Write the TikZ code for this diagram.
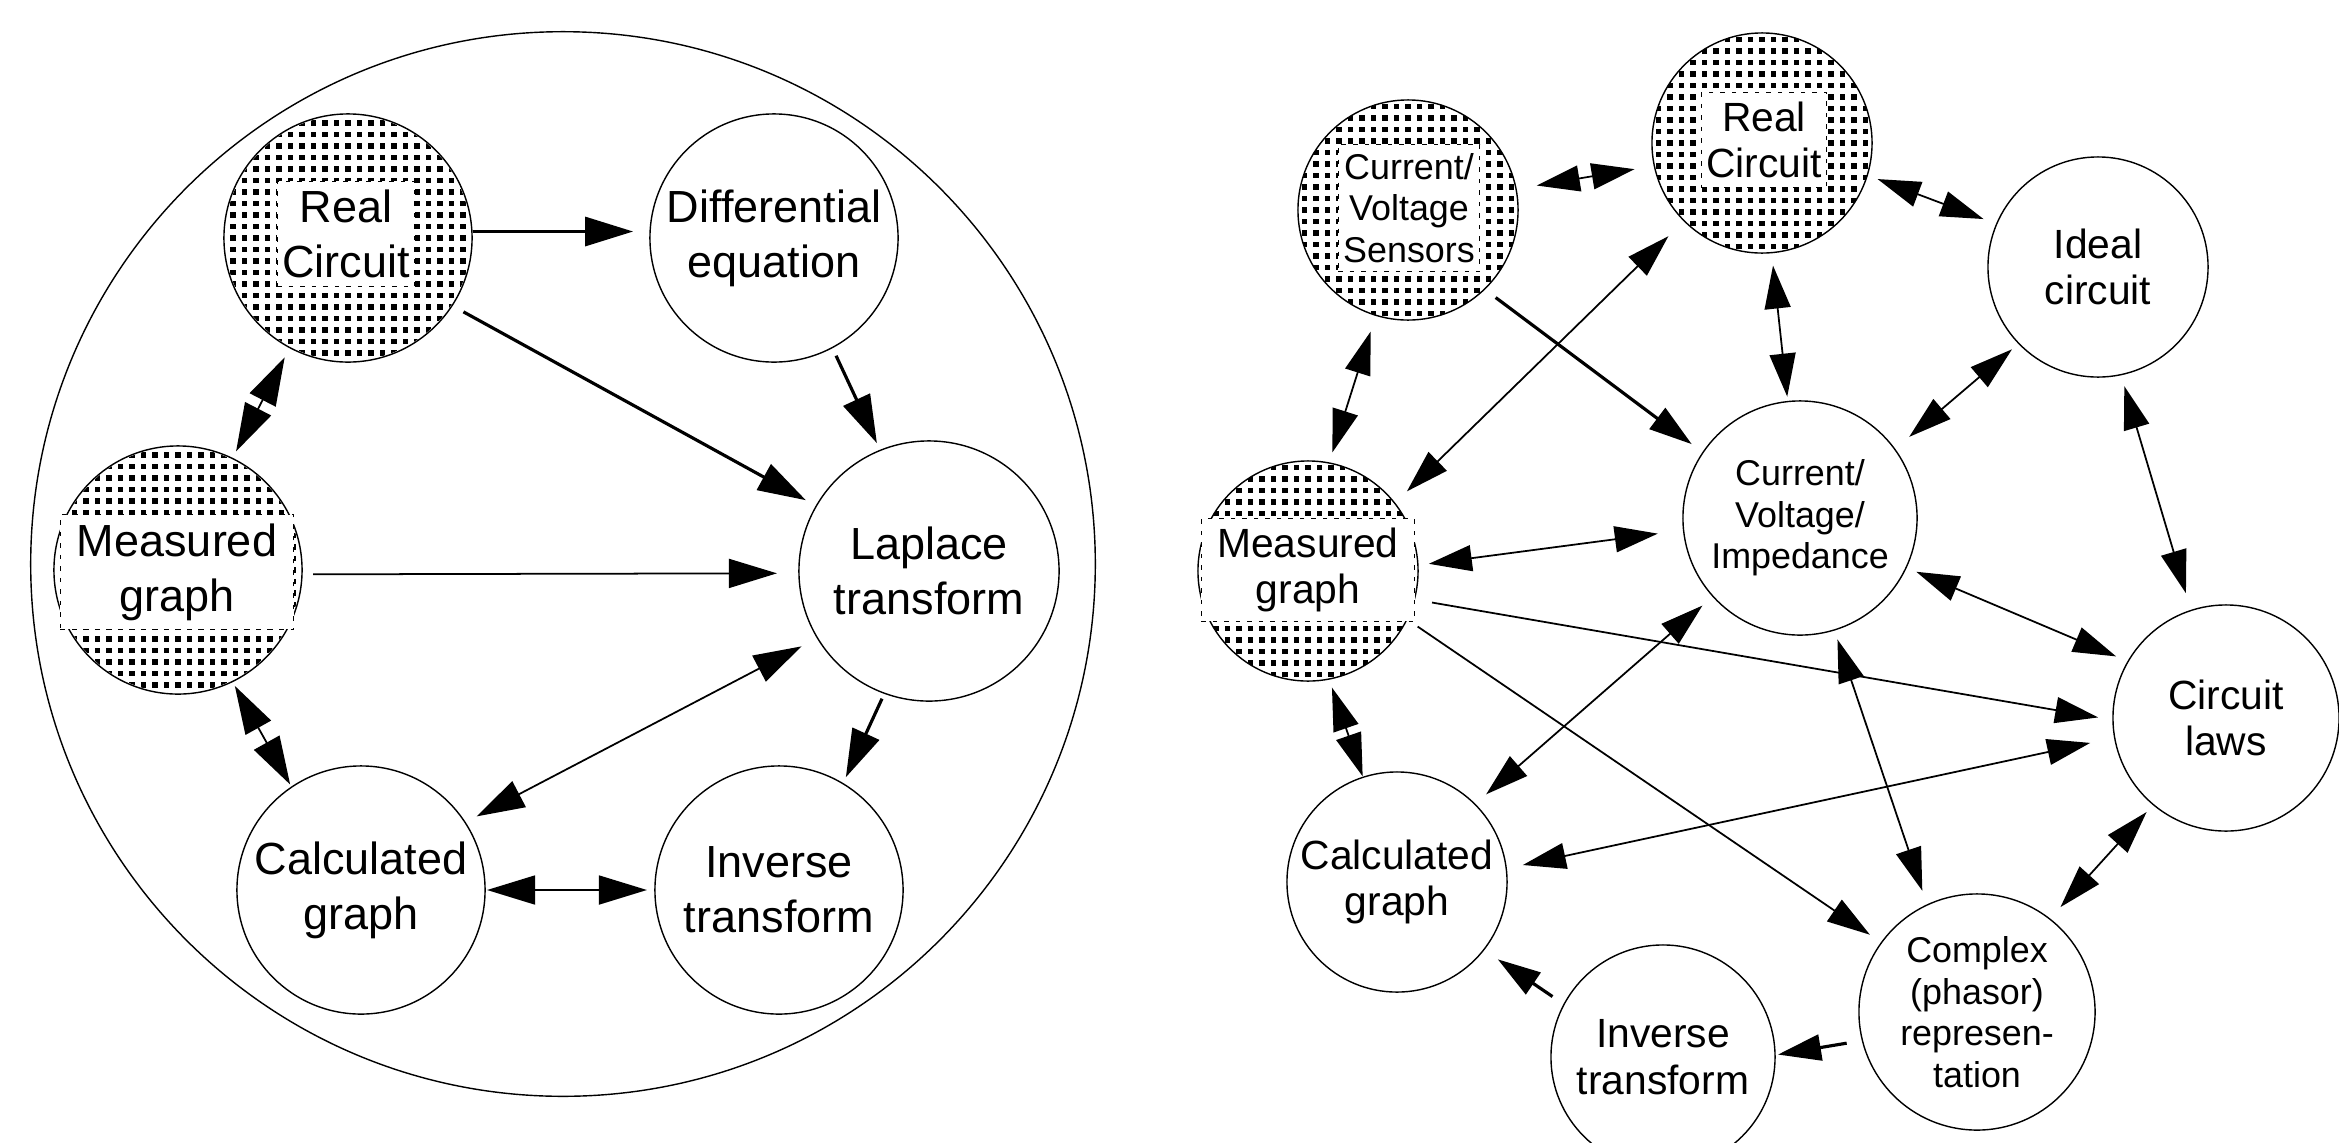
\documentclass[tikz,border=0pt]{standalone}
\usepackage{fontspec}
\setmainfont{Liberation Sans}
\usetikzlibrary{arrows.meta}
\newcommand\fontL{\fontsize{12.8pt}{15.6pt}\selectfont}
\newcommand\fontR{\fontsize{11.6pt}{13.2pt}\selectfont}
\newcommand\fontS{\fontsize{10.2pt}{11.8pt}\selectfont}
\newcommand\dotgrid[2]{%
  \begin{scope}
    \clip (#1.center) circle (#2);
    \begin{scope}[shift={(#1.center)}]
      \foreach \i in {-11,...,11}{\foreach \j in {-11,...,11}{%
        \fill (\i*11.5-2.8,\j*11.5-2.8) rectangle ++(5.6,5.6);}}
    \end{scope}
  \end{scope}}
\tikzset{
  TL/.tip={Triangle[length=0.48cm,width=0.29cm]},
  TR/.tip={Triangle[length=0.43cm,width=0.26cm]},
}
\begin{document}
\begin{tikzpicture}[x=0.01cm,y=0.01cm,
  circ/.style={draw, circle, line width=0.4pt, inner sep=0pt, outer sep=0pt, align=center},
  Lc/.style={circ, minimum size=2.48cm, font=\fontL},
  Rc/.style={circ, minimum size=2.2cm, font=\fontR},
  tbox/.style={fill=white, draw, line width=0.3pt, dash pattern=on 0.045cm off 0.07cm,
               inner xsep=0.05cm, inner ysep=0.09cm, align=center},
  la/.style={-TL, line width=0.5pt},
  lda/.style={TL-TL, line width=0.5pt},
  ra/.style={-TR, line width=0.5pt},
  rda/.style={TR-TR, line width=0.5pt},
  heavy/.style={line width=0.9pt}]
\useasboundingbox (0,0) rectangle (2339,-1142);
\clip (0,0) rectangle (2339,-1142);

% ---------------- left diagram ----------------
\node[circ, minimum size=10.64cm] (frame) at (563,-564) {};
\node[Lc] (lrc) at (348,-238) {};
\dotgrid{lrc}{123}
\node[tbox, font=\fontL] (lrct) at (346,-234) {Real\\Circuit};
\node[Lc] (lde) at (774,-238) {Differential\\equation};
\node[Lc] (lmg) at (178,-570) {};
\dotgrid{lmg}{123}
\node[tbox, font=\fontL, minimum width=2.33cm] (lmgt) at (177,-572) {Measured\\graph};
\node[Lc, minimum size=2.6cm] (llt) at (929,-571) {Laplace\\transform};
\node[Lc] (lcg) at (361,-890) {Calculated\\graph};
\node[Lc] (lit) at (779,-890) {Inverse\\transform};

\draw[la, heavy, shorten <=0.01cm, shorten >=0.17cm] (lrc.3) -- (lde.177);
\draw[la, heavy, shorten <=0.13cm, shorten >=0.12cm] (lrc.327) -- (llt.150);
\draw[la, heavy, shorten <=0.09cm, shorten >=0.08cm] (lde.298) -- (llt.112);
\draw[la, shorten <=0.11cm, shorten >=0.22cm] (lmg.358) -- (llt.181);
\draw[lda, shorten <=0.18cm, shorten >=0.13cm] (llt.211) -- (lcg.33);
\draw[la, heavy, shorten <=0.06cm, shorten >=0.07cm] (llt.250) -- (lit.59);
\draw[lda, shorten <=0.02cm, shorten >=0.08cm] (lcg.0) -- (lit.180);
\draw[lda, shorten <=0.11cm, shorten >=0.08cm] (lrc.242) -- (lmg.64);
\draw[lda, shorten <=0.05cm, shorten >=0.03cm] (lmg.296) -- (lcg.124);

% ---------------- right diagram ----------------
\node[Rc] (sen) at (1408,-210) {};
\dotgrid{sen}{110}
\node[tbox, font=\fontS] (sent) at (1409,-208) {Current/\\Voltage\\Sensors};
\node[Rc] (rrc) at (1762,-143) {};
\dotgrid{rrc}{110}
\node[tbox, font=\fontR] (rrct) at (1764,-140) {Real\\Circuit};
\node[Rc] (ide) at (2098,-267) {Ideal\\circuit};
\node[Rc, minimum size=2.34cm, font=\fontS] (cvi) at (1800,-518) {Current/\\Voltage/\\Impedance};
\node[Rc] (rmg) at (1308,-571) {};
\dotgrid{rmg}{110}
\node[tbox, font=\fontR, minimum width=2.13cm] (rmgt) at (1308,-570) {Measured\\graph};
\node[Rc, minimum size=2.26cm] (cl) at (2226,-718) {Circuit\\laws};
\node[Rc] (rcg) at (1397,-882) {Calculated\\graph};
\node[Rc, minimum size=2.36cm, font=\fontS] (cpx) at (1977,-1012) {Complex\\(phasor)\\represen-\\tation};
\node[Rc, minimum size=2.24cm] (rit) at (1663,-1057) {Inverse\\transform};

\draw[rda, shorten <=0.21cm, shorten >=0.20cm] (sen.11) -- (rrc.192);
\draw[rda, shorten <=0.11cm, shorten >=0.14cm] (rrc.343) -- (ide.157);
\draw[rda, shorten <=0.13cm, shorten >=0.05cm] (rrc.275) -- (cvi.96);
\draw[rda, shorten <=0.17cm, shorten >=0.11cm] (sen.253) -- (rmg.79);
\draw[ra, heavy, shorten <=0.14cm, shorten >=0.14cm] (sen.314) -- (cvi.146);
\draw[rda, shorten <=0.17cm, shorten >=0.22cm] (rmg.38) -- (rrc.225);
\draw[rda, shorten <=0.09cm, shorten >=0.19cm] (ide.224) -- (cvi.36);
\draw[rda, shorten <=0.12cm, shorten >=0.18cm] (ide.282) -- (cl.108);
\draw[rda, shorten <=0.11cm, shorten >=0.26cm] (rmg.3) -- (cvi.186);
\draw[rda, shorten <=0.11cm, shorten >=0.13cm] (cvi.335) -- (cl.150);
\draw[ra, shorten <=0.18cm, shorten >=0.15cm] (rmg.345) -- (cl.181);
\draw[ra, shorten <=0.13cm, shorten >=0.14cm] (rmg.334) -- (cpx.144);
\draw[rda, shorten <=0.14cm, shorten >=0.15cm] (cvi.222) -- (rcg.45);
\draw[rda, shorten <=0.10cm, shorten >=0.15cm] (cvi.287) -- (cpx.115);
\draw[rda, shorten <=0.25cm, shorten >=0.17cm] (cl.190) -- (rcg.7);
\draw[rda, shorten <=0.09cm, shorten >=0.01cm] (rmg.281) -- (rcg.108);
\draw[rda, shorten <=0.10cm, shorten >=0.16cm] (cl.230) -- (cpx.52);
\draw[ra, heavy, shorten <=0.16cm, shorten >=0.03cm] (cpx.194) -- (rit.1);
\draw[ra, heavy, shorten <=0.14cm, shorten >=0.17cm] (rit.152) -- (rcg.322);
\end{tikzpicture}
\end{document}
